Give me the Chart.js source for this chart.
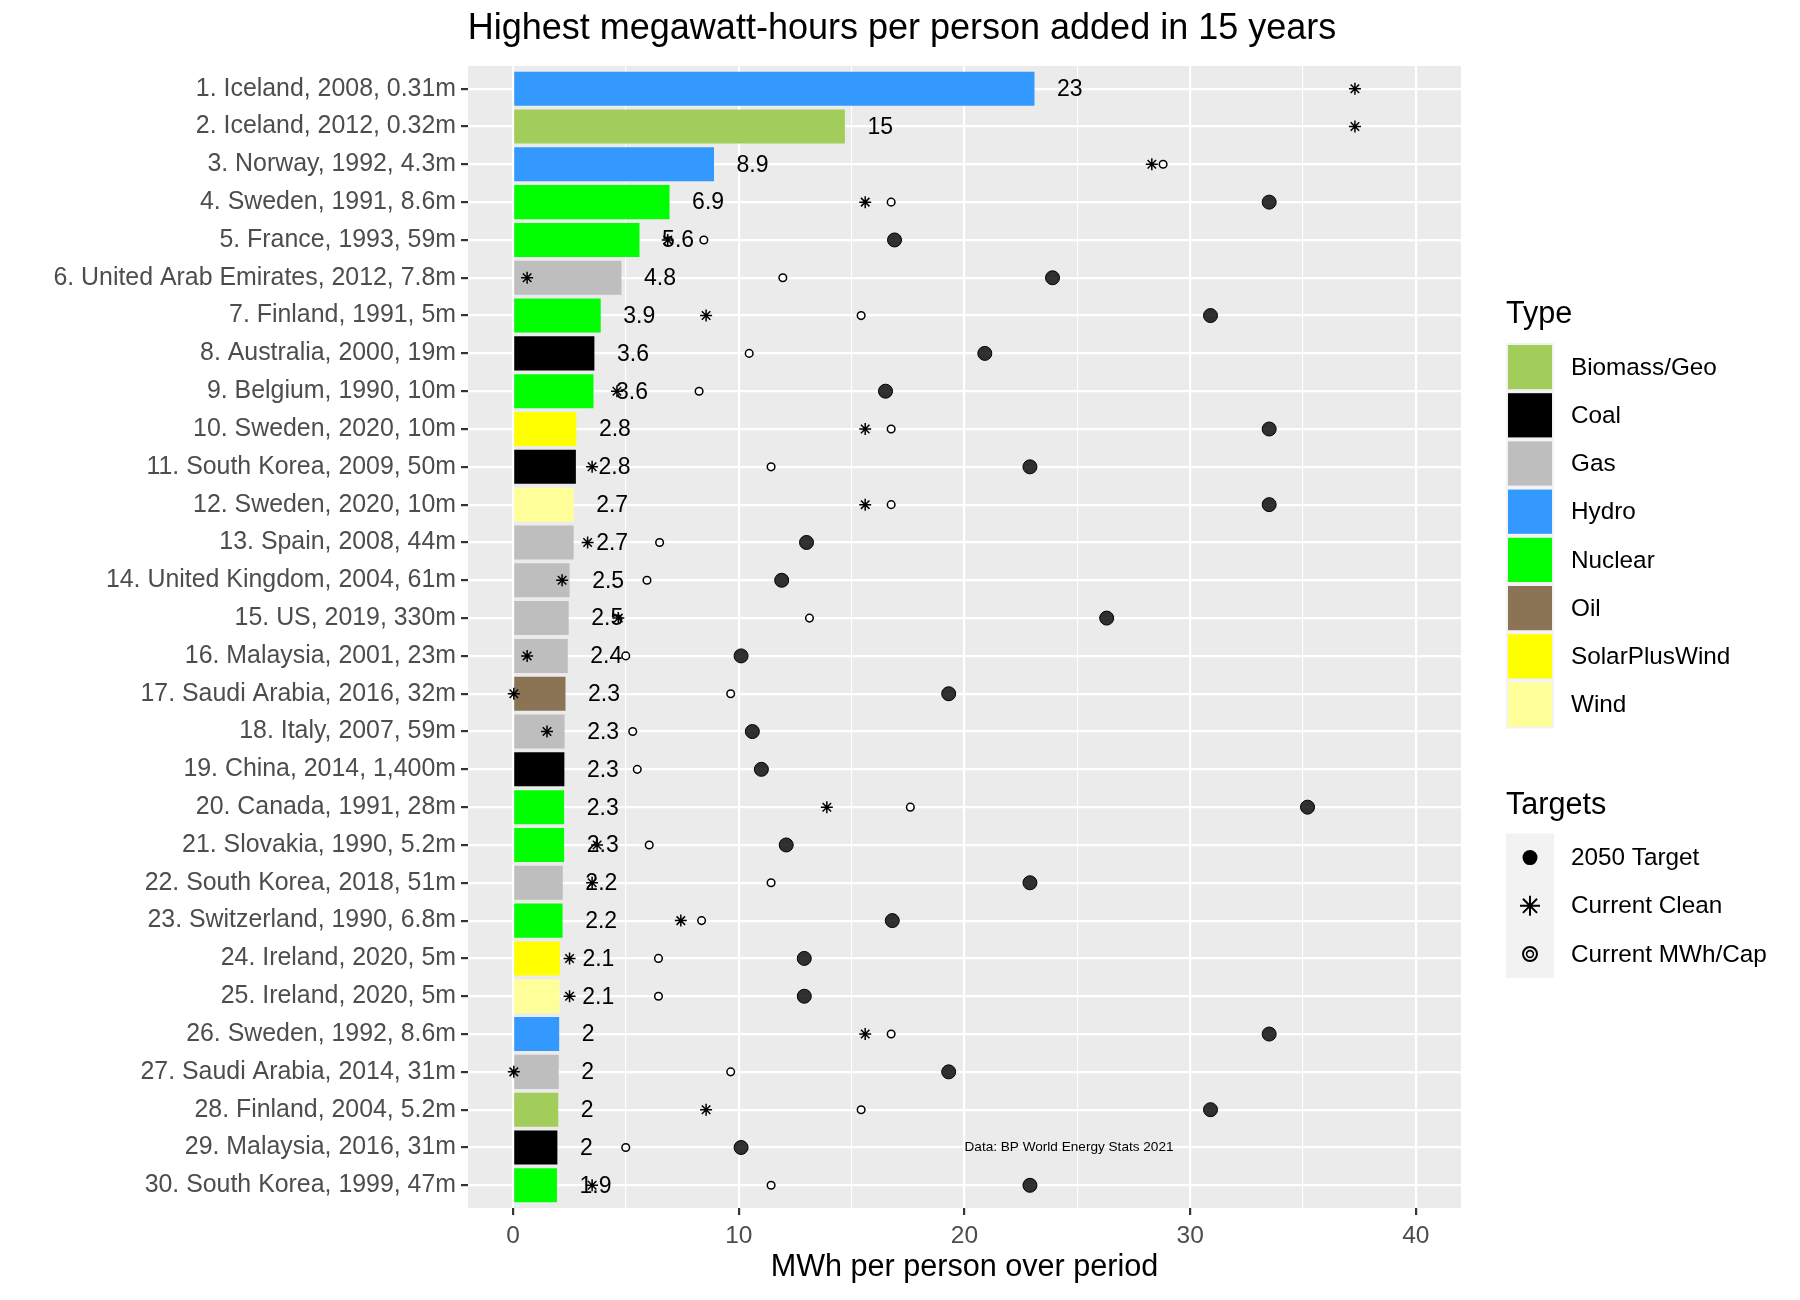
<!DOCTYPE html>
<html>
<head>
<meta charset="utf-8">
<script src="https://cdn.jsdelivr.net/npm/chart.js@4.4.0/dist/chart.umd.min.js"></script>
<style>
  html, body { margin: 0; padding: 0; background: #ffffff; }
  #wrap { width: 1800px; height: 1300px; position: relative; }
</style>
</head>
<body>
<div id="wrap"><canvas id="c" width="1800" height="1300"></canvas></div>
<script>
// ---------------- DATA ----------------
const chartTitle = 'Highest megawatt-hours per person added in 15 years';
const xAxisTitle = 'MWh per person over period';
const sourceNote = 'Data: BP World Energy Stats 2021';

const categories = [
  '1. Iceland, 2008, 0.31m',
  '2. Iceland, 2012, 0.32m',
  '3. Norway, 1992, 4.3m',
  '4. Sweden, 1991, 8.6m',
  '5. France, 1993, 59m',
  '6. United Arab Emirates, 2012, 7.8m',
  '7. Finland, 1991, 5m',
  '8. Australia, 2000, 19m',
  '9. Belgium, 1990, 10m',
  '10. Sweden, 2020, 10m',
  '11. South Korea, 2009, 50m',
  '12. Sweden, 2020, 10m',
  '13. Spain, 2008, 44m',
  '14. United Kingdom, 2004, 61m',
  '15. US, 2019, 330m',
  '16. Malaysia, 2001, 23m',
  '17. Saudi Arabia, 2016, 32m',
  '18. Italy, 2007, 59m',
  '19. China, 2014, 1,400m',
  '20. Canada, 1991, 28m',
  '21. Slovakia, 1990, 5.2m',
  '22. South Korea, 2018, 51m',
  '23. Switzerland, 1990, 6.8m',
  '24. Ireland, 2020, 5m',
  '25. Ireland, 2020, 5m',
  '26. Sweden, 1992, 8.6m',
  '27. Saudi Arabia, 2014, 31m',
  '28. Finland, 2004, 5.2m',
  '29. Malaysia, 2016, 31m',
  '30. South Korea, 1999, 47m'
];

const types = [
  'Hydro', 'Biomass/Geo', 'Hydro', 'Nuclear', 'Nuclear',
  'Gas', 'Nuclear', 'Coal', 'Nuclear', 'SolarPlusWind',
  'Coal', 'Wind', 'Gas', 'Gas', 'Gas',
  'Gas', 'Oil', 'Gas', 'Coal', 'Nuclear',
  'Nuclear', 'Gas', 'Nuclear', 'SolarPlusWind', 'Wind',
  'Hydro', 'Gas', 'Biomass/Geo', 'Coal', 'Nuclear'
];

// MWh per person added over the period (bar length)
const addedMWh = [
  23.1, 14.7, 8.9, 6.93, 5.6,
  4.8, 3.88, 3.6, 3.56, 2.8,
  2.78, 2.68, 2.68, 2.5, 2.46,
  2.42, 2.32, 2.28, 2.27, 2.26,
  2.26, 2.2, 2.19, 2.07, 2.06,
  2.04, 2.02, 2.0, 1.96, 1.94
];

// 2050 Target (null = beyond the axis limit, not drawn)
const target2050 = [
  null, null, null, 33.5, 16.9,
  23.9, 30.9, 20.9, 16.5, 33.5,
  22.9, 33.5, 13.0, 11.9, 26.3,
  10.1, 19.3, 10.6, 11.0, 35.2,
  12.1, 22.9, 16.8, 12.9, 12.9,
  33.5, 19.3, 30.9, 10.1, 22.9
];

// Current Clean
const currentClean = [
  37.3, 37.3, 28.3, 15.6, 6.85,
  0.62, 8.55, 1.3, 4.6, 15.6,
  3.5, 15.6, 3.3, 2.17, 4.66,
  0.62, 0.03, 1.5, 1.7, 13.9,
  3.72, 3.5, 7.43, 2.5, 2.5,
  15.6, 0.03, 8.55, 0.62, 3.5
];

// Current MWh/Cap (null = beyond the axis limit, not drawn)
const currentMWhCap = [
  null, null, 28.8, 16.75, 8.45,
  11.95, 15.42, 10.46, 8.24, 16.75,
  11.43, 16.75, 6.49, 5.93, 13.13,
  4.99, 9.64, 5.3, 5.5, 17.6,
  6.03, 11.43, 8.35, 6.44, 6.44,
  16.75, 9.64, 15.42, 4.99, 11.43
];

const typeNames  = ['Biomass/Geo', 'Coal', 'Gas', 'Hydro', 'Nuclear', 'Oil', 'SolarPlusWind', 'Wind'];
const typeColors = ['#A2CD5A', '#000000', '#BEBEBE', '#3399FF', '#00FF00', '#8B7355', '#FFFF00', '#FFFF99'];

const targetNames = ['2050 Target', 'Current Clean', 'Current MWh/Cap'];

const xMin = -2, xMax = 42;
const xMajorTicks = [0, 10, 20, 30, 40];
const xMinorTicks = [5, 15, 25, 35];

// ---------------- STYLE ----------------
const FONT = "'Liberation Sans', Arial, Helvetica, sans-serif";
const PANEL_BG = '#EBEBEB';

function labelFor(v) { return String(Number(v.toPrecision(2))); }

function pts(arr) {
  const out = [];
  arr.forEach((v, i) => { if (v !== null) out.push({ x: v, y: i }); });
  return out;
}

// ---------------- PLUGINS ----------------
const bgPlugin = {
  id: 'ggBackground',
  beforeDraw(chart) {
    const { ctx, chartArea: a } = chart;
    ctx.save();
    ctx.fillStyle = '#ffffff';
    ctx.fillRect(0, 0, chart.width, chart.height);
    ctx.fillStyle = PANEL_BG;
    ctx.fillRect(a.left, a.top, a.right - a.left, a.bottom - a.top);
    ctx.restore();
  }
};

const valueLabelPlugin = {
  id: 'valueLabels',
  afterDatasetDraw(chart, args) {
    if (args.index !== 0) return;
    const { ctx, scales: { x, y } } = chart;
    ctx.save();
    ctx.fillStyle = '#000000';
    ctx.font = `23px ${FONT}`;
    ctx.textAlign = 'left';
    ctx.textBaseline = 'middle';
    addedMWh.forEach((v, i) => {
      ctx.fillText(labelFor(v), x.getPixelForValue(v + 1.0), y.getPixelForValue(i) + 1);
    });
    ctx.restore();
  }
};

const notePlugin = {
  id: 'note',
  afterDatasetsDraw(chart) {
    const { ctx, scales: { x, y } } = chart;
    ctx.save();
    ctx.fillStyle = '#000000';
    ctx.font = `13.6px ${FONT}`;
    ctx.textAlign = 'left';
    ctx.textBaseline = 'middle';
    ctx.fillText(sourceNote, x.getPixelForValue(20), y.getPixelForValue(28));
    ctx.restore();
  }
};

function drawStar(ctx, cx, cy, r, lw) {
  ctx.save();
  ctx.strokeStyle = '#000';
  ctx.lineWidth = lw;
  ctx.beginPath();
  ctx.moveTo(cx - r, cy); ctx.lineTo(cx + r, cy);
  ctx.moveTo(cx, cy - r); ctx.lineTo(cx, cy + r);
  const d = r * Math.SQRT1_2;
  ctx.moveTo(cx - d, cy - d); ctx.lineTo(cx + d, cy + d);
  ctx.moveTo(cx - d, cy + d); ctx.lineTo(cx + d, cy - d);
  ctx.stroke();
  ctx.restore();
}

const titleLegendPlugin = {
  id: 'titleLegend',
  afterDraw(chart) {
    const ctx = chart.ctx;
    ctx.save();
    // title
    ctx.fillStyle = '#000000';
    ctx.font = `36px ${FONT}`;
    ctx.textAlign = 'center';
    ctx.textBaseline = 'alphabetic';
    ctx.fillText(chartTitle, 902, 39);

    // Type legend
    const lx = 1506, kw = 48, step = 48.2;
    ctx.textAlign = 'left';
    ctx.font = `30.6px ${FONT}`;
    ctx.fillText('Type', lx, 323);
    typeNames.forEach((name, i) => {
      const top = 343 + i * step;
      ctx.fillStyle = '#F2F2F2';
      ctx.fillRect(lx, top, kw, step);
      ctx.fillStyle = typeColors[i];
      ctx.fillRect(lx + 2, top + 2, kw - 4, step - 4);
      ctx.fillStyle = '#000000';
      ctx.font = `24.3px ${FONT}`;
      ctx.textBaseline = 'middle';
      ctx.fillText(name, 1571, top + step / 2 + 1);
      ctx.textBaseline = 'alphabetic';
    });

    // Targets legend
    ctx.font = `30.6px ${FONT}`;
    ctx.fillStyle = '#000000';
    ctx.fillText('Targets', lx, 814);
    const tTop = 833.5;
    ctx.fillStyle = '#F2F2F2';
    ctx.fillRect(lx, tTop, kw, step * 3);
    const cx = lx + kw / 2;
    targetNames.forEach((name, i) => {
      const cy = tTop + i * step + step / 2;
      if (i === 0) {
        ctx.beginPath();
        ctx.arc(cx, cy, 7.5, 0, Math.PI * 2);
        ctx.fillStyle = '#000000';
        ctx.fill();
      } else if (i === 1) {
        drawStar(ctx, cx, cy, 10, 2);
      } else {
        ctx.strokeStyle = '#000000';
        ctx.lineWidth = 2;
        ctx.beginPath(); ctx.arc(cx, cy, 7, 0, Math.PI * 2); ctx.stroke();
        ctx.lineWidth = 1.6;
        ctx.beginPath(); ctx.arc(cx, cy, 3.4, 0, Math.PI * 2); ctx.stroke();
      }
      ctx.fillStyle = '#000000';
      ctx.font = `24.3px ${FONT}`;
      ctx.textBaseline = 'middle';
      ctx.fillText(name, 1571, cy + 1);
      ctx.textBaseline = 'alphabetic';
    });
    ctx.restore();
  }
};

// ---------------- CHART ----------------
const ctx = document.getElementById('c').getContext('2d');
new Chart(ctx, {
  type: 'bar',
  data: {
    datasets: [
      {
        type: 'bar',
        label: 'MWh added',
        data: addedMWh.map((v, i) => ({ x: v, y: i })),
        backgroundColor: types.map(t => typeColors[typeNames.indexOf(t)]),
        borderWidth: 0,
        barPercentage: 0.9,
        categoryPercentage: 1.0,
        order: 10
      },
      {
        type: 'scatter',
        label: targetNames[0],
        data: pts(target2050),
        pointStyle: 'circle',
        pointRadius: 7,
        backgroundColor: 'rgba(0,0,0,0.8)',
        borderColor: '#000000',
        borderWidth: 1,
        order: 3
      },
      {
        type: 'scatter',
        label: targetNames[1],
        data: pts(currentClean),
        pointStyle: 'star',
        pointRadius: 6,
        borderColor: '#000000',
        backgroundColor: '#000000',
        borderWidth: 1.5,
        order: 2
      },
      {
        type: 'scatter',
        label: targetNames[2],
        data: pts(currentMWhCap),
        pointStyle: 'circle',
        pointRadius: 3.8,
        backgroundColor: '#ffffff',
        borderColor: '#000000',
        borderWidth: 1.5,
        order: 1
      }
    ]
  },
  options: {
    indexAxis: 'y',
    responsive: false,
    animation: false,
    events: [],
    devicePixelRatio: 1,
    layout: { padding: { top: 66, right: 339, bottom: 0, left: 0 } },
    plugins: {
      legend: { display: false },
      title: { display: false },
      tooltip: { enabled: false }
    },
    scales: {
      x: {
        type: 'linear',
        position: 'bottom',
        min: xMin,
        max: xMax,
        offset: false,
        afterBuildTicks: s => {
          s.ticks = xMajorTicks.concat(xMinorTicks).sort((a, b) => a - b).map(v => ({ value: v }));
        },
        afterFit: s => { s.height = 92; },
        ticks: {
          autoSkip: false,
          maxRotation: 0,
          padding: 7,
          color: '#4D4D4D',
          font: { family: FONT, size: 24.5 },
          callback: v => (xMajorTicks.includes(v) ? String(v) : '')
        },
        grid: {
          color: '#FFFFFF',
          lineWidth: c => (c.tick && xMajorTicks.includes(c.tick.value) ? 2.2 : 1.1),
          drawTicks: true,
          tickLength: 7,
          tickWidth: 2.2,
          tickColor: c => (c.tick && xMajorTicks.includes(c.tick.value) ? '#333333' : 'rgba(0,0,0,0)')
        },
        border: { display: false },
        title: {
          display: true,
          text: xAxisTitle,
          color: '#000000',
          font: { family: FONT, size: 30.6 },
          padding: { top: 0, bottom: 14 }
        }
      },
      y: {
        type: 'linear',
        position: 'left',
        reverse: true,
        min: -0.6,
        max: 29.6,
        offset: false,
        afterBuildTicks: s => { s.ticks = categories.map((_, i) => ({ value: i })); },
        afterFit: s => { s.width = 468; },
        ticks: {
          autoSkip: false,
          padding: 5,
          color: '#4D4D4D',
          font: { family: FONT, size: 24.9 },
          callback: v => categories[v]
        },
        grid: {
          offset: false,
          color: '#FFFFFF',
          lineWidth: 2.2,
          drawTicks: true,
          tickLength: 7,
          tickWidth: 2.2,
          tickColor: '#333333'
        },
        border: { display: false }
      }
    }
  },
  plugins: [bgPlugin, valueLabelPlugin, notePlugin, titleLegendPlugin]
});
</script>
</body>
</html>
